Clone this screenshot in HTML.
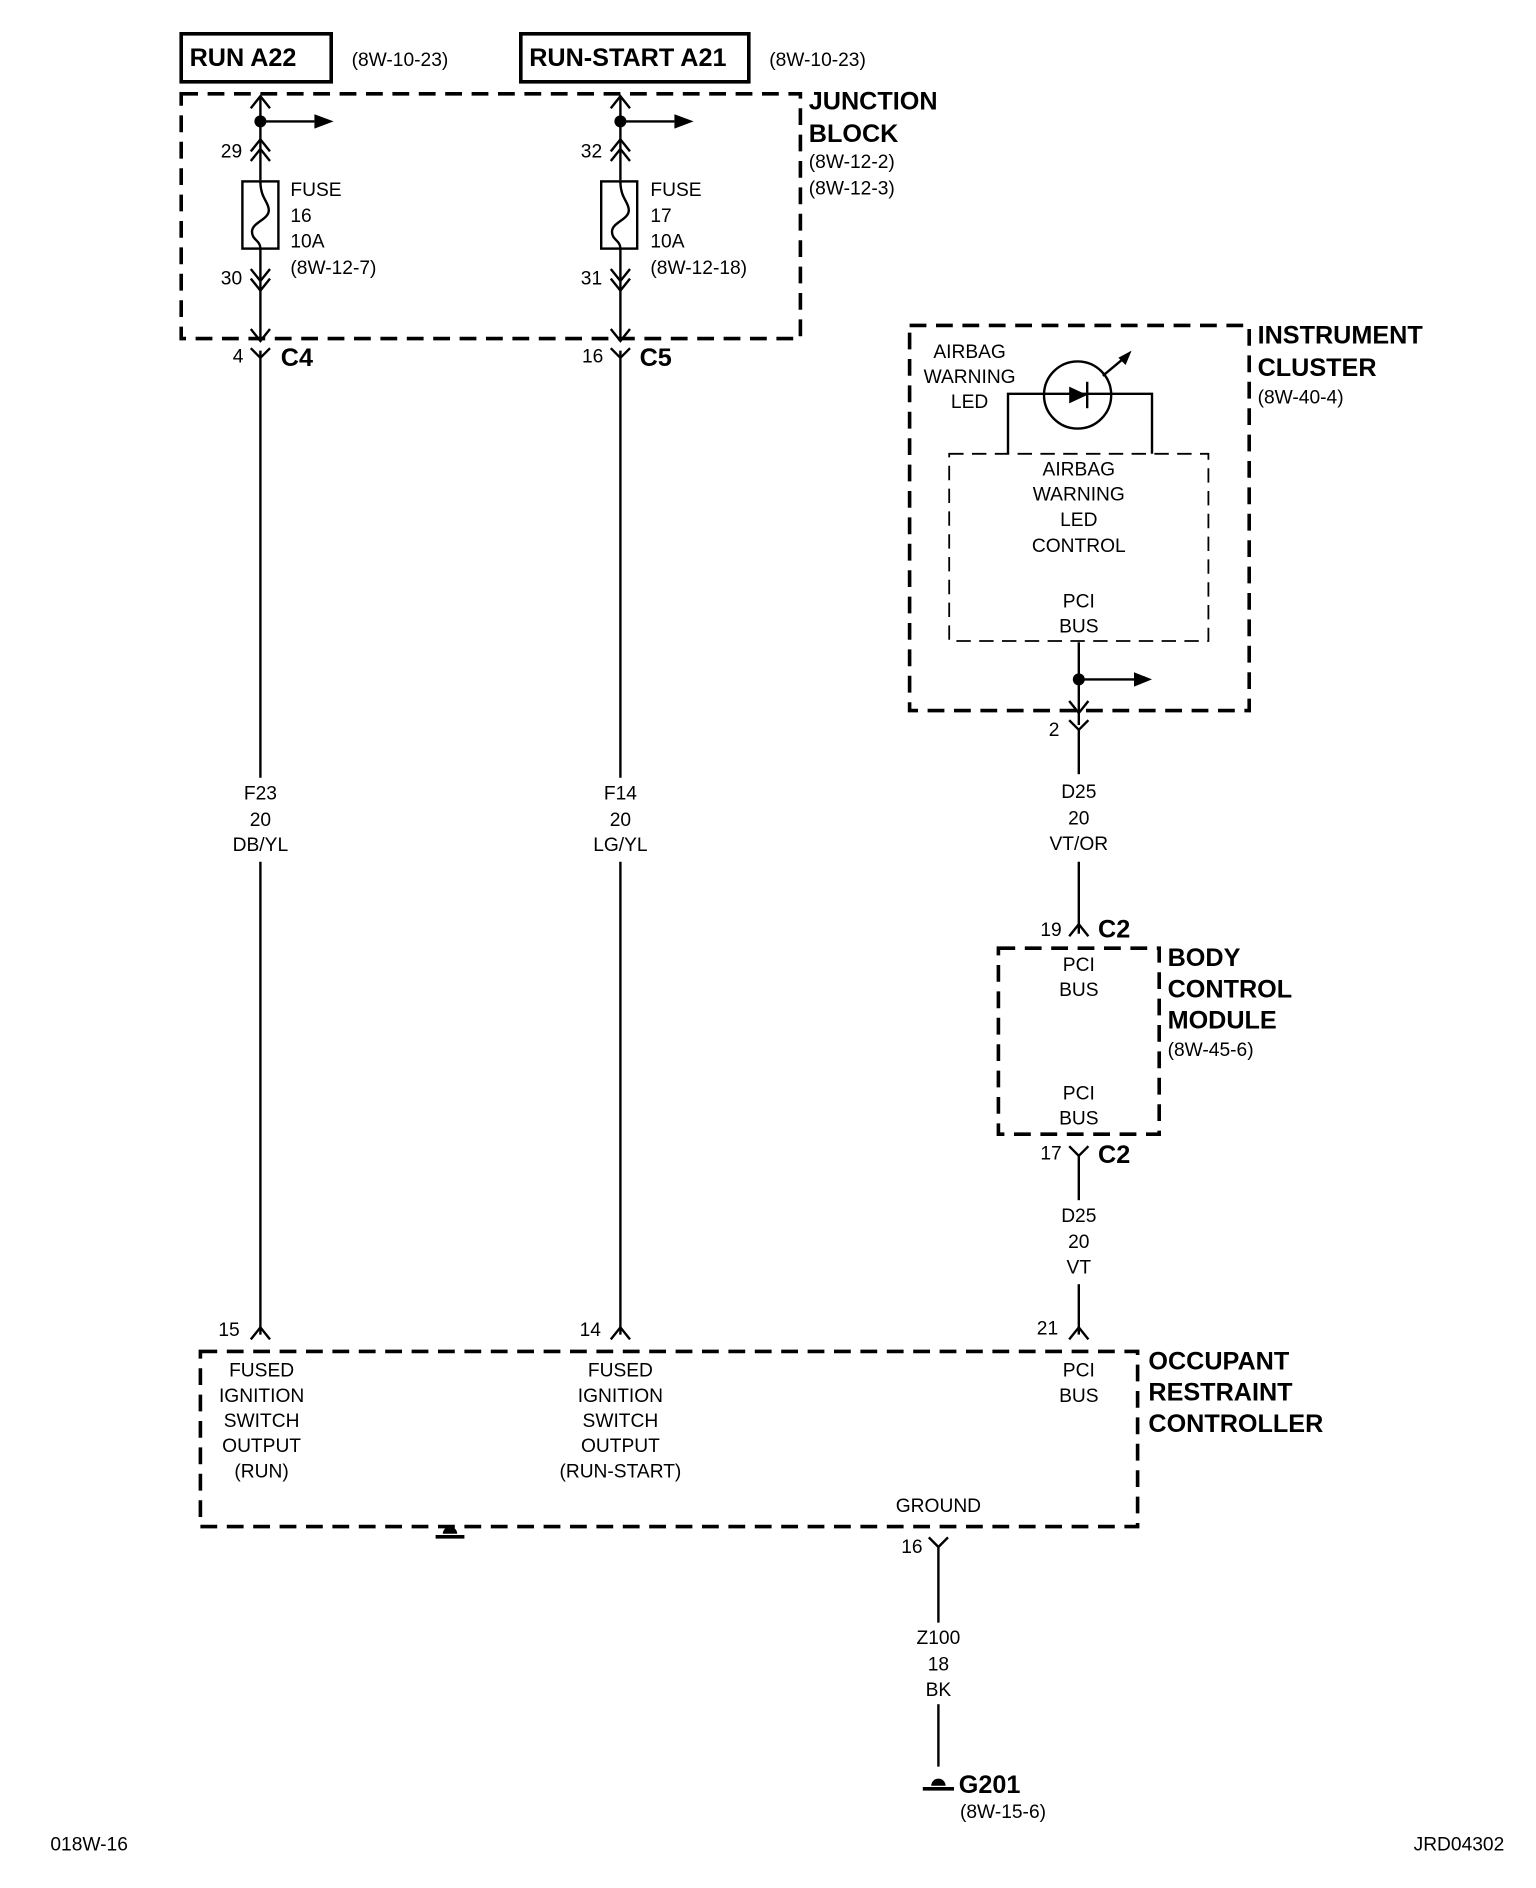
<!DOCTYPE html>
<html><head><meta charset="utf-8"><style>
html,body{margin:0;padding:0;background:#fff;}
svg{display:block;}
text{font-family:"Liberation Sans Narrow","Liberation Sans",sans-serif;fill:#000;}
.s{font-size:16px;}
.c{text-anchor:middle;}
.b{font-weight:bold;font-size:21px;}
</style></head><body>
<svg width="1536" height="1888" viewBox="0 0 1280 1573" xmlns="http://www.w3.org/2000/svg">
<g fill="none" stroke="#000" stroke-width="2">
<!-- top boxes -->
<rect x="151" y="28" width="125" height="40" stroke-width="3"/>
<rect x="434" y="28" width="190" height="40" stroke-width="3"/>
<!-- junction block -->
<rect x="151" y="78" width="516" height="204" stroke-width="3" stroke-dasharray="14 8"/>
<!-- wires -->
<line x1="217" y1="80" x2="217" y2="150"/><line x1="217" y1="207" x2="217" y2="284"/>
<line x1="517" y1="80" x2="517" y2="150"/><line x1="517" y1="207" x2="517" y2="284"/>
<line x1="217" y1="292" x2="217" y2="648"/><line x1="217" y1="718" x2="217" y2="1112"/>
<line x1="517" y1="292" x2="517" y2="648"/><line x1="517" y1="718" x2="517" y2="1112"/>
<!-- chevrons top -->
<polyline points="209,90 217,80 225,90"/><polyline points="509,90 517,80 525,90"/>
<polyline points="209,126 217,116 225,126"/><polyline points="209,134 217,124 225,134"/>
<polyline points="509,126 517,116 525,126"/><polyline points="509,134 517,124 525,134"/>
<polyline points="209,224 217,234 225,224"/><polyline points="209,232 217,242 225,232"/>
<polyline points="509,224 517,234 525,224"/><polyline points="509,232 517,242 525,232"/>
<polyline points="209,274 217,284 225,274"/><polyline points="509,274 517,284 525,274"/>
<polyline points="209,290 217,298 225,290"/><polyline points="509,290 517,298 525,290"/>
<!-- fuses -->
<rect x="202" y="151" width="30" height="56"/><rect x="501" y="151" width="30" height="56"/>
<path d="M217,151 C217,165 224,168 224,175 C224,183 210,185 210,193 C210,200 217,200 217,207"/>
<path d="M517,151 C517,165 524,168 524,175 C524,183 510,185 510,193 C510,200 517,200 517,207"/>
<!-- branch arrows -->
<line x1="217" y1="101" x2="262" y2="101"/><line x1="517" y1="101" x2="562" y2="101"/>
<!-- bottom carets -->
<polyline points="209,1116 217,1106 225,1116"/><polyline points="509,1116 517,1106 525,1116"/>
<polyline points="891,1116 899,1106 907,1116"/>
<!-- ORC -->
<rect x="167" y="1126" width="781" height="146" stroke-width="3" stroke-dasharray="14 8"/>
<!-- instrument cluster -->
<rect x="758" y="271" width="283" height="321" stroke-width="3" stroke-dasharray="14 8"/>
<rect x="791" y="378" width="216" height="156" stroke-width="1.5" stroke-dasharray="12 7"/>
<circle cx="898" cy="329" r="28"/>
<polyline points="840,378 840,328 960,328 960,378"/>
<line x1="906" y1="318" x2="906" y2="340"/>
<line x1="919" y1="313" x2="937" y2="298"/>
<line x1="899" y1="535" x2="899" y2="604"/>
<polyline points="891,584 899,594 907,584"/>
<polyline points="891,600 899,608 907,600"/>
<line x1="899" y1="566" x2="945" y2="566"/>
<line x1="899" y1="608" x2="899" y2="645"/>
<line x1="899" y1="718" x2="899" y2="778"/>
<polyline points="891,780 899,770 907,780"/>
<!-- BCM -->
<rect x="832" y="790" width="134" height="155" stroke-width="3" stroke-dasharray="14 8"/>
<polyline points="891,955 899,963 907,955"/>
<line x1="899" y1="963" x2="899" y2="1000"/>
<line x1="899" y1="1070" x2="899" y2="1112"/>
<!-- ground -->
<polyline points="774,1281 782,1289 790,1281"/>
<line x1="782" y1="1289" x2="782" y2="1352"/>
<line x1="782" y1="1420" x2="782" y2="1472"/>
</g>
<g fill="#000">
<circle cx="217" cy="101" r="5"/><circle cx="517" cy="101" r="5"/><circle cx="899" cy="566" r="5"/>
<polygon points="262,95 278,101 262,107"/><polygon points="562,95 578,101 562,107"/>
<polygon points="945,560 960,566 945,572"/>
<polygon points="891,322 906,329 891,336"/>
<polygon points="932,298 943,292 938,304"/>
<path d="M369,1278 a6,6 0 0 1 12,0 z"/><rect x="363" y="1279" width="24" height="3"/>
<path d="M776,1488 a6,6 0 0 1 12,0 z"/><rect x="769" y="1489" width="26" height="3"/>
</g>
<text x="158" y="55" class="b">RUN A22</text>
<text x="293" y="55" class="s">(8W-10-23)</text>
<text x="441" y="55" class="b">RUN-START A21</text>
<text x="641" y="55" class="s">(8W-10-23)</text>
<text x="674" y="91" class="b">JUNCTION</text>
<text x="674" y="118" class="b">BLOCK</text>
<text x="674" y="140" class="s">(8W-12-2)</text>
<text x="674" y="162" class="s">(8W-12-3)</text>
<text x="184" y="131" class="s">29</text><text x="484" y="131" class="s">32</text>
<text x="184" y="237" class="s">30</text><text x="484" y="237" class="s">31</text>
<text x="242" y="163" class="s">FUSE</text><text x="242" y="185" class="s">16</text><text x="242" y="206" class="s">10A</text><text x="242" y="228" class="s">(8W-12-7)</text>
<text x="542" y="163" class="s">FUSE</text><text x="542" y="185" class="s">17</text><text x="542" y="206" class="s">10A</text><text x="542" y="228" class="s">(8W-12-18)</text>
<text x="194" y="302" class="s">4</text><text x="234" y="305" class="b">C4</text>
<text x="485" y="302" class="s">16</text><text x="533" y="305" class="b">C5</text>
<text x="217" y="666" class="s c">F23</text><text x="217" y="688" class="s c">20</text><text x="217" y="709" class="s c">DB/YL</text>
<text x="517" y="666" class="s c">F14</text><text x="517" y="688" class="s c">20</text><text x="517" y="709" class="s c">LG/YL</text>
<text x="1048" y="286" class="b">INSTRUMENT</text>
<text x="1048" y="313" class="b">CLUSTER</text>
<text x="1048" y="336" class="s">(8W-40-4)</text>
<text x="808" y="298" class="s c">AIRBAG</text><text x="808" y="319" class="s c">WARNING</text><text x="808" y="340" class="s c">LED</text>
<text x="899" y="396" class="s c">AIRBAG</text><text x="899" y="417" class="s c">WARNING</text><text x="899" y="438" class="s c">LED</text><text x="899" y="460" class="s c">CONTROL</text>
<text x="899" y="506" class="s c">PCI</text><text x="899" y="527" class="s c">BUS</text>
<text x="874" y="613" class="s">2</text>
<text x="899" y="665" class="s c">D25</text><text x="899" y="687" class="s c">20</text><text x="899" y="708" class="s c">VT/OR</text>
<text x="867" y="780" class="s">19</text><text x="915" y="781" class="b">C2</text>
<text x="899" y="809" class="s c">PCI</text><text x="899" y="830" class="s c">BUS</text>
<text x="899" y="916" class="s c">PCI</text><text x="899" y="937" class="s c">BUS</text>
<text x="973" y="805" class="b">BODY</text><text x="973" y="831" class="b">CONTROL</text><text x="973" y="857" class="b">MODULE</text>
<text x="973" y="880" class="s">(8W-45-6)</text>
<text x="867" y="966" class="s">17</text><text x="915" y="969" class="b">C2</text>
<text x="899" y="1018" class="s c">D25</text><text x="899" y="1040" class="s c">20</text><text x="899" y="1061" class="s c">VT</text>
<text x="182" y="1113" class="s">15</text><text x="483" y="1113" class="s">14</text><text x="864" y="1112" class="s">21</text>
<text x="218" y="1147" class="s c">FUSED</text><text x="218" y="1168" class="s c">IGNITION</text><text x="218" y="1189" class="s c">SWITCH</text><text x="218" y="1210" class="s c">OUTPUT</text><text x="218" y="1231" class="s c">(RUN)</text>
<text x="517" y="1147" class="s c">FUSED</text><text x="517" y="1168" class="s c">IGNITION</text><text x="517" y="1189" class="s c">SWITCH</text><text x="517" y="1210" class="s c">OUTPUT</text><text x="517" y="1231" class="s c">(RUN-START)</text>
<text x="899" y="1147" class="s c">PCI</text><text x="899" y="1168" class="s c">BUS</text>
<text x="957" y="1141" class="b">OCCUPANT</text><text x="957" y="1167" class="b">RESTRAINT</text><text x="957" y="1193" class="b">CONTROLLER</text>
<text x="782" y="1260" class="s c">GROUND</text>
<text x="751" y="1294" class="s">16</text>
<text x="782" y="1370" class="s c">Z100</text><text x="782" y="1392" class="s c">18</text><text x="782" y="1413" class="s c">BK</text>
<text x="799" y="1494" class="b">G201</text>
<text x="800" y="1515" class="s">(8W-15-6)</text>
<text x="42" y="1542" class="s">018W-16</text>
<text x="1178" y="1542" class="s">JRD04302</text>
</svg>
</body></html>
